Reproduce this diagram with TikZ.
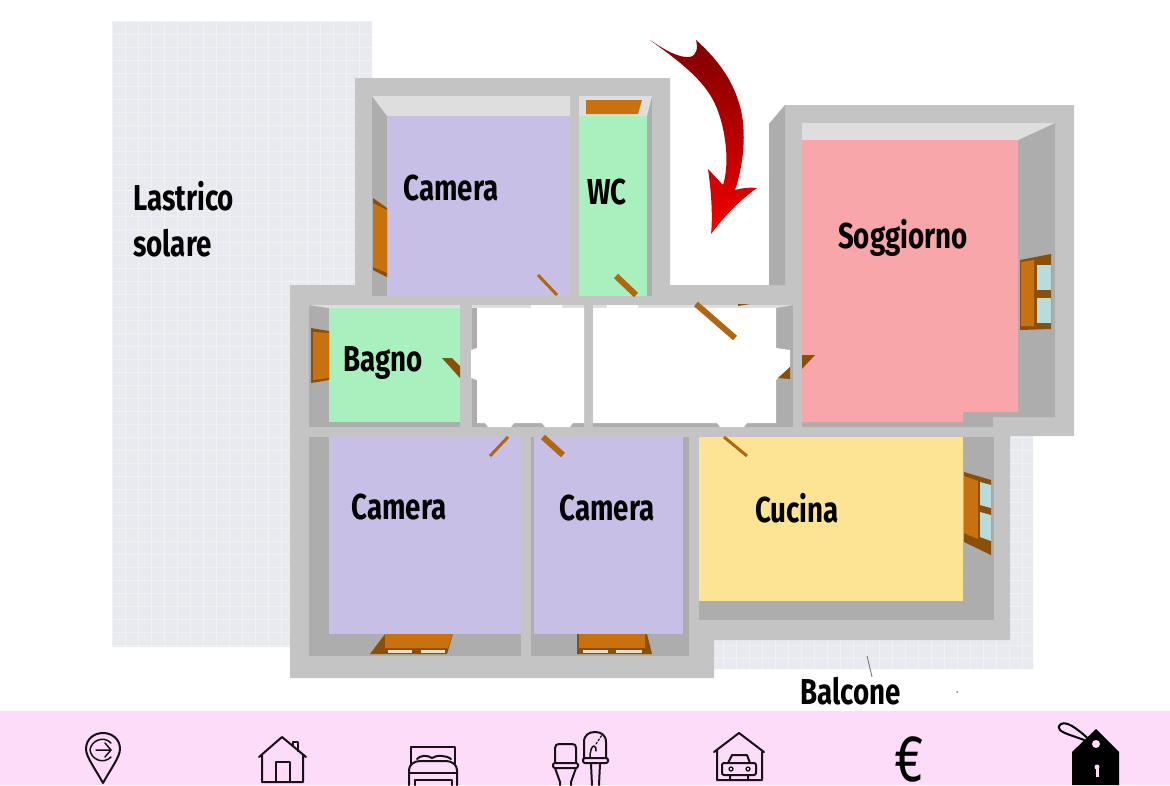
\documentclass[tikz,border=0pt]{standalone}
\usepackage{fontspec}
\newfontfamily\labelfont[FakeStretch=0.77]{Fira Sans}
\definecolor{tile}{HTML}{E8EAF0}
\definecolor{tileline}{HTML}{F0F1F5}
\definecolor{wall}{HTML}{C4C4C4}
\definecolor{wallside}{HTML}{ADADAD}
\definecolor{walltop}{HTML}{DEDEDE}
\definecolor{lilac}{HTML}{C7BFE6}
\definecolor{mint}{HTML}{A8F0BE}
\definecolor{salmon}{HTML}{F8A6AA}
\definecolor{butter}{HTML}{FDE494}
\definecolor{band}{HTML}{FCDCF8}
\definecolor{wood}{HTML}{C8720F}
\definecolor{darkwood}{HTML}{8A4F08}
\definecolor{glass}{HTML}{B8DCDC}
\definecolor{iconink}{HTML}{1A1018}
\begin{document}
\begin{tikzpicture}[x=1pt,y=-1pt]
		\tikzstyle{roomlabel}=[font=\labelfont\bfseries\fontsize{36}{46}\selectfont,inner sep=0pt,align=left]
		\tikzstyle{door}=[line width=6pt,color=wood!65!darkwood]
		\tikzstyle{thindoor}=[line width=3pt,color=wood!65!darkwood]
		\tikzstyle{icon}=[line width=2pt,color=iconink,line join=round,line cap=round]
		\useasboundingbox (0,0) rectangle (1170,785);
		\clip (0,0) rectangle (1170,785);

		% roof and balcony
		\begin{scope}
			\clip (112,21) rectangle (372,647) (700,640) rectangle (1033,669) (1000,430) rectangle (1033,669);
			\fill[tile] (100,10) rectangle (1040,680);
			\foreach \x in {112,125,...,1040} { \draw[tileline,line width=1pt] (\x,10) -- (\x,680); }
			\foreach \y in {21,34,...,680} { \draw[tileline,line width=1pt] (100,\y) -- (1040,\y); }
		\end{scope}

		% outer walls
		\fill[wall] (355,78) -- (670,78) -- (670,285) -- (769,285) -- (769,124) -- (785,105) -- (1074,105) -- (1074,436) -- (1010,436) -- (1010,640) -- (714,640) -- (714,678) -- (290,678) -- (290,285) -- (355,285) -- cycle;
		\fill[wallside] (769,124) -- (785,105) -- (785,285) -- (769,285) -- cycle;

		% rooms: dark recess first, then the floor
		\foreach \a / \b / \c / \d in {372/96/570/296,579/96/652/296,309/305/460/427,472/305/584/427,593/305/793/427,309/437/521/656,531/437/689/656,699/437/994/620} { \fill[wallside] (\a,\b) rectangle (\c,\d); }
		\fill[wallside] (802,123) -- (1055,123) -- (1055,417) -- (993,417) -- (993,427) -- (802,427) -- cycle;
		\fill[walltop] (372,96) -- (570,96) -- (570,116) -- (387,116) -- cycle;
		\fill[walltop] (579,96) -- (652,96) -- (647,116) -- (579,116) -- cycle;
		\fill[walltop] (802,123) -- (1055,123) -- (1018,140) -- (802,140) -- cycle;
		\fill[walltop] (309,305) -- (460,305) -- (460,308) -- (329,308) -- cycle;
		\fill[walltop] (472,305) rectangle (584,308);
		\fill[walltop] (593,305) -- (793,305) -- (776,308) -- (593,308) -- cycle;
		\foreach \a / \b / \c / \d in {387/116/570/296,329/437/521/634,534/437/683/634} { \fill[lilac] (\a,\b) rectangle (\c,\d); }
		\foreach \a / \b / \c / \d in {579/116/647/296,329/308/460/422} { \fill[mint] (\a,\b) rectangle (\c,\d); }
		\fill[butter] (699,437) rectangle (963,601);
		\fill[salmon] (802,140) -- (1018,140) -- (1018,412) -- (963,412) -- (963,422) -- (802,422) -- cycle;

		% hall
		\fill[white] (477,308) -- (531,308) -- (531,305) -- (562,305) -- (562,308) -- (584,308) -- (584,423) -- (573,423) -- (570,427) -- (545,427) -- (542,423) -- (514,423) -- (511,427) -- (488,427) -- (485,423) -- (477,423) -- (477,380) -- (471,378) -- (471,350) -- (477,348) -- cycle;
		\fill[white] (593,308) -- (607,308) -- (607,305) -- (638,305) -- (638,308) -- (776,308) -- (776,348) -- (790,350) -- (790,367) -- (778,378) -- (776,380) -- (776,423) -- (747,423) -- (744,427) -- (720,427) -- (717,423) -- (593,423) -- cycle;

		% windows
		\fill[wood] (586,100) -- (642,100) -- (638,114) -- (586,114) -- cycle;
		\fill[darkwood] (373,198) -- (387,208) -- (387,277) -- (373,270) -- cycle;
		\fill[wood] (373,203) -- (387,210) -- (387,273) -- (373,267) -- cycle;
		\fill[darkwood] (311,328) -- (329,331) -- (329,380) -- (311,383) -- cycle;
		\fill[wood] (313,332) -- (329,333) -- (329,378) -- (313,380) -- cycle;
		\fill[darkwood] (1020,260) -- (1051,254) -- (1051,329) -- (1020,330) -- cycle;
		\fill[wood] (1021,262) -- (1034,260) -- (1034,326) -- (1021,326) -- cycle;
		\foreach \a / \b / \c / \d in {1037/265/1051/290,1037/298/1051/323} { \fill[glass] (\a,\b) rectangle (\c,\d); }
		\fill[darkwood] (964,472) -- (991,480) -- (991,555) -- (964,542) -- cycle;
		\fill[wood] (964,476) -- (978,481) -- (978,539) -- (964,533) -- cycle;
		\fill[glass] (980,482) -- (991,485) -- (991,508) -- (980,505) -- cycle;
		\fill[glass] (980,512) -- (991,515) -- (991,541) -- (980,537) -- cycle;
		\fill[darkwood] (385,634) -- (453,634) -- (447,654) -- (370,654) -- cycle;
		\fill[wood] (385,634) -- (453,634) -- (448,648) -- (385,648) -- cycle;
		\fill[darkwood] (577,634) -- (647,634) -- (652,654) -- (577,654) -- cycle;
		\fill[wood] (579,634) -- (645,634) -- (645,648) -- (579,648) -- cycle;
		\foreach \a / \c in {388/412,421/445,583/608,616/642} { \fill[walltop!70!butter] (\a,650) rectangle (\c,653); }

		% doors
		\foreach \a / \b / \c / \d in {616/276/636/295,696/304/735/338,543/437/563/455} { \draw[door] (\a,\b) -- (\c,\d); }
		\foreach \a / \b / \c / \d in {538/275/557/295,508/437/490/456,724/437/747/456} { \draw[thindoor] (\a,\b) -- (\c,\d); }
		\fill[darkwood] (442,358) -- (452,358) -- (460,366) -- (460,378) -- cycle;
		\fill[darkwood] (802,355) -- (815,355) -- (802,369) -- cycle;
		\fill[darkwood] (778,378) -- (790,367) -- (790,379) -- cycle;
		\fill[darkwood] (738,306) -- (750,304) -- (738,304) -- cycle;

		% labels
		\node[roomlabel,anchor=west] (lastrico) at (133,219) {Lastrico\\solare};
		\node[roomlabel] (cameratop) at (451,188) {Camera};
		\node[roomlabel] (wc) at (607,192) {WC};
		\node[roomlabel] (soggiorno) at (903,238) {Soggiorno};
		\node[roomlabel] (bagno) at (383,363) {Bagno};
		\node[roomlabel] (cameraleft) at (399,507) {Camera};
		\node[roomlabel] (cameraright) at (607,508) {Camera};
		\node[roomlabel] (cucina) at (797,508) {Cucina};
		\node[roomlabel] (balcone) at (851,691) {Balcone};
		\coordinate (balconetip) at (867,656);
		\draw[gray,line width=1pt] (balconetip) -- ([xshift=21pt]balcone.north);
		\fill[gray] (957,692) circle (1);

		% red arrow
		\shade[top color=red!50!black,bottom color=red!95!black] (650,40) .. controls (670,55) and (700,75) .. (713,100) .. controls (724,120) and (731,160) .. (723,185) -- (708,169) .. controls (711,190) and (713,215) .. (711,234) .. controls (725,215) and (740,200) .. (757,188) .. controls (750,187) and (742,188) .. (735,190) .. controls (745,160) and (747,125) .. (738,100) .. controls (730,75) and (713,55) .. (696,40) .. controls (698,48) and (697,55) .. (690,57) .. controls (678,58) and (665,50) .. (650,40) -- cycle;

		% icon band
		\fill[band] (0,711) rectangle (1170,785);
		% place
		\draw[icon] (103,783) .. controls (96,770) and (86,757) .. (86,749) .. controls (86,739) and (94,733) .. (103,733) .. controls (112,733) and (120,739) .. (120,749) .. controls (120,757) and (110,770) .. (103,783) -- cycle;
		\draw[icon,line width=1.5pt] (111,743) .. controls (103,735) and (91,741) .. (90,750) .. controls (91,759) and (103,765) .. (111,757);
		\draw[icon,line width=1.5pt] (96,750) -- (111,750) (105,743) -- (111,750) -- (105,757);
		% house
		\draw[icon] (259,757) -- (282,737) -- (306,757) (262,754) -- (262,782) -- (303,782) -- (303,754);
		\draw[icon] (276,782) -- (276,762) -- (290,762) -- (290,782) (293,746) -- (293,742) -- (298,742) -- (298,751);
		% bed
		\draw[icon] (411,764) -- (411,747) -- (455,747) -- (455,764);
		\draw[icon] (417,759) .. controls (420,755) and (428,755) .. (432,758) .. controls (436,755) and (446,755) .. (451,759);
		\draw[icon] (409,785) -- (409,770) .. controls (409,765) and (414,761) .. (420,761) -- (446,761) .. controls (452,761) and (457,765) .. (457,770) -- (457,785);
		\draw[icon] (409,773) -- (457,773) (415,785) -- (415,780) -- (452,780) -- (452,785);
		% toilet and sink
		\draw[icon] (555,763) -- (555,748) .. controls (555,745) and (557,744) .. (559,744) -- (572,744) .. controls (575,744) and (576,745) .. (576,748) -- (576,763);
		\draw[icon,rounded corners=2pt] (553,763) rectangle (578,768);
		\draw[icon] (555,768) -- (560,782) -- (560,785) (576,768) -- (571,782) -- (571,785);
		\draw[icon] (584,758) -- (584,742) .. controls (584,735) and (589,732) .. (595,732) .. controls (601,732) and (606,735) .. (606,742) -- (606,758);
		\draw[icon,rounded corners=2pt] (583,758) rectangle (608,763);
		\draw[icon] (591,764) -- (592,785) (600,764) -- (599,785);
		\draw[icon,line width=1.5pt] (590,758) .. controls (590,750) and (592,746) .. (594,746) .. controls (596,746) and (596,749) .. (596,751);
		\draw[icon,dotted,line width=1.2pt] (596,744) -- (602,735);
		% garage
		\draw[icon] (714,752) -- (739,733) -- (764,752) (717,750) -- (717,780) -- (762,780) -- (762,750);
		\draw[icon,rounded corners=2pt] (722,763) rectangle (756,775);
		\draw[icon] (728,763) -- (732,755) -- (747,755) -- (750,763) (730,776) -- (730,780) (748,776) -- (748,780);
		\draw[icon,line width=1.3pt] (731,769) circle (2) (748,769) circle (2);
		% euro
		\node[font=\labelfont\fontsize{66}{66}\selectfont,text=black,inner sep=0pt] (euro) at (909,759) {€};
		% tag
		\draw[black,line width=2pt,line cap=round] (1093,743) .. controls (1082,733) and (1068,720) .. (1061,724) .. controls (1055,729) and (1062,732) .. (1070,735) -- (1090,742);
		\fill[black] (1096,729) -- (1119,752) -- (1119,785) -- (1072,785) -- (1072,752) -- cycle;
		\fill[band] (1096,744) circle (4);
		\fill[band] (1097,767) circle (2.5);
		\fill[band] (1095.5,767) rectangle (1098.5,777);
\end{tikzpicture}
\end{document}
